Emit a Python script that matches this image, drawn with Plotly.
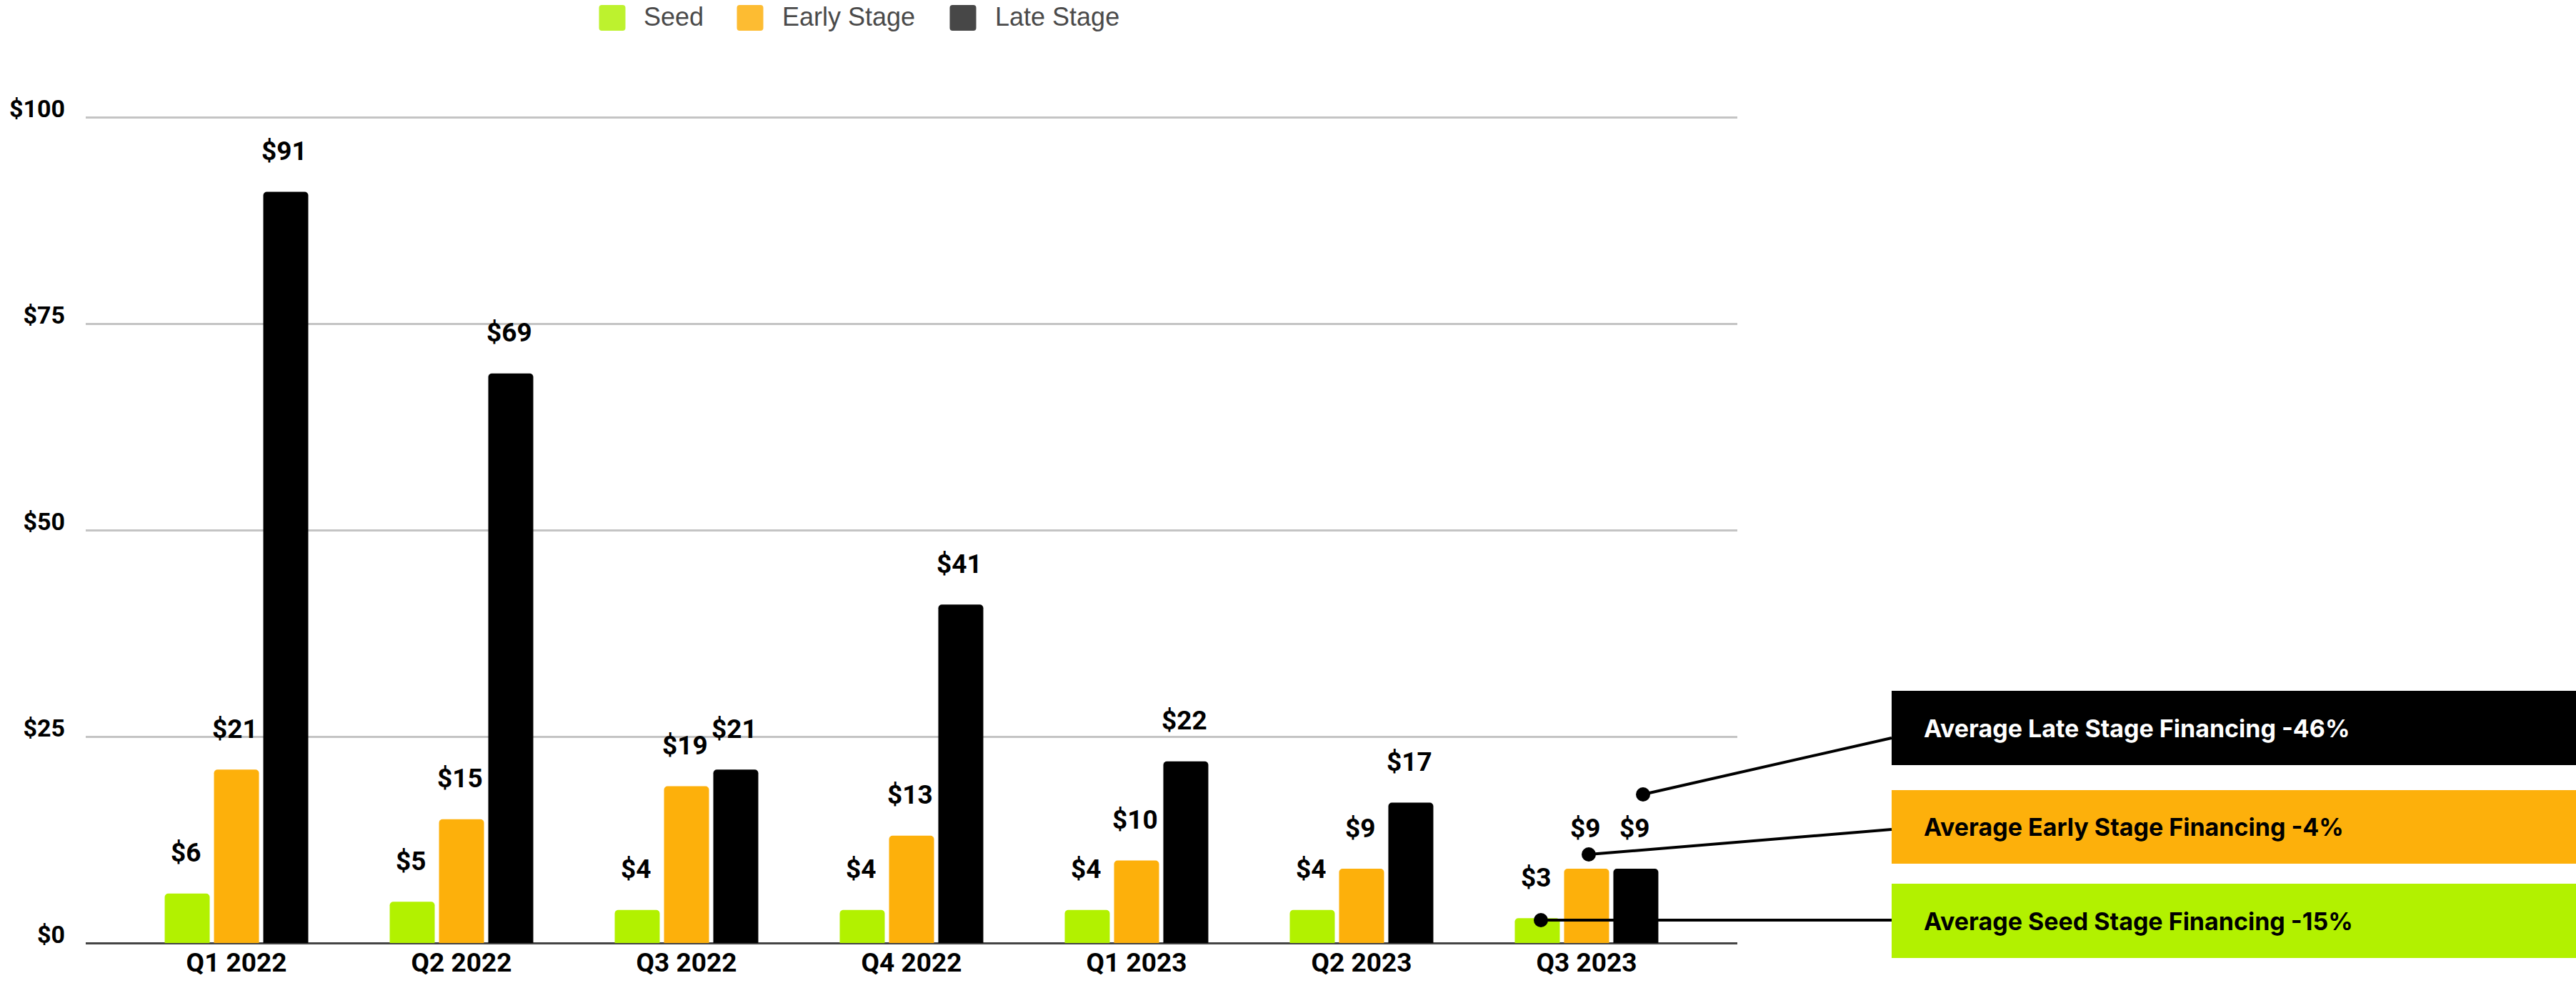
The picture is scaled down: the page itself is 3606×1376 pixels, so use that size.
import plotly.graph_objects as go

# ---- data ----------------------------------------------------------------
quarters = ["Q1 2022", "Q2 2022", "Q3 2022", "Q4 2022", "Q1 2023", "Q2 2023", "Q3 2023"]
series_names = ["Seed", "Early Stage", "Late Stage"]
seed = [6, 5, 4, 4, 4, 4, 3]
early = [21, 15, 19, 13, 10, 9, 9]
late = [91, 69, 21, 41, 22, 17, 9]
series_values = [seed, early, late]

y_tick_vals = [0, 25, 50, 75, 100]
y_tick_text = ["$0", "$25", "$50", "$75", "$100"]

callout_text = [
    "Average Seed Stage Financing -15%",
    "Average Early Stage Financing -4%",
    "Average Late Stage Financing -46%",
]

# ---- styling -------------------------------------------------------------
bar_colors = ["#b2f100", "#fdb00b", "#000000"]
legend_colors = ["#bdf22e", "#fdbc32", "#474747"]
callout_text_colors = ["#000000", "#000000", "#ffffff"]

W, H = 3606, 1376
Y_MAX = 101
ML, MR, MB = 120, 1174, 56
ZERO_PX = H - MB                      # pixel row of the $0 baseline
UNIT_PX = 11.55                       # pixels per $1
MT = round(ZERO_PX - Y_MAX * UNIT_PX)
PW, PH = W - ML - MR, H - MT - MB


def px_x(px):
    return (px - ML) / PW


def px_y(py):
    return (H - MB - py) / PH


def rounded_rect(w, h, r):
    x0, x1, y0, y1 = -w / 2, w / 2, -h / 2, h / 2
    return (f"M{x0 + r},{y0} L{x1 - r},{y0} Q{x1},{y0} {x1},{y0 + r} "
            f"L{x1},{y1 - r} Q{x1},{y1} {x1 - r},{y1} L{x0 + r},{y1} "
            f"Q{x0},{y1} {x0},{y1 - r} L{x0},{y0 + r} Q{x0},{y0} {x0 + r},{y0} Z")


BOLD = dict(family="Roboto, Arial, sans-serif", color="#000000", weight=700)

fig = go.Figure()
for name, vals, col in zip(series_names, series_values, bar_colors):
    fig.add_trace(go.Bar(
        name=name, x=quarters, y=vals,
        marker=dict(color=col, cornerradius=5, line=dict(width=0)),
        showlegend=False, hoverinfo="x+y+name",
    ))

annotations = []
shapes = []

# value labels above each bar
slot_px = 69
for i, vals in enumerate(series_values):
    for q, v in zip(quarters, vals):
        annotations.append(dict(
            x=q, y=v, xref="x", yref="y", text=f"${v}", showarrow=False,
            xshift=(i - 1) * slot_px - 2, yshift=57, yanchor="middle",
            font=dict(size=37, **BOLD),
        ))

# legend row (swatch + label)
legend_swatch_x = [857, 1050, 1348]
legend_text_x = [899, 1093, 1391]
legend_y = 25
for name, col, sx, tx in zip(series_names, legend_colors, legend_swatch_x, legend_text_x):
    shapes.append(dict(
        type="path", xref="paper", yref="paper", xsizemode="pixel", ysizemode="pixel",
        xanchor=px_x(sx), yanchor=px_y(legend_y), path=rounded_rect(37, 36, 4),
        fillcolor=col, line=dict(width=0),
    ))
    annotations.append(dict(
        x=px_x(tx), y=px_y(legend_y - 2), xref="paper", yref="paper", text=name,
        showarrow=False, xanchor="left", yanchor="middle",
        font=dict(family="Liberation Sans, Arial, sans-serif", size=36, color="#4a4a4a"),
    ))

# callout boxes on the right with connector lines
box_left, box_right, box_text_x = 2648, W, 2691
box_tops = [1237, 1106, 967]
box_bottoms = [1341, 1209, 1071]
dot_pts = [(2157, 1288), (2224, 1196), (2300, 1112)]
line_ends = [(box_left, 1288), (box_left, 1161), (box_left, 1033)]

for k in range(3):
    shapes.append(dict(
        type="rect", xref="paper", yref="paper",
        x0=px_x(box_left), x1=px_x(box_right),
        y0=px_y(box_bottoms[k]), y1=px_y(box_tops[k]),
        fillcolor=bar_colors[k], line=dict(width=0), layer="above",
    ))
    annotations.append(dict(
        x=px_x(box_text_x), y=px_y((box_tops[k] + box_bottoms[k]) / 2),
        xref="paper", yref="paper", text=callout_text[k], showarrow=False,
        xanchor="left", yanchor="middle",
        font=dict(family="Inter, Roboto, sans-serif", size=34,
                  color=callout_text_colors[k], weight=700),
    ))
    (dx, dy), (ex, ey) = dot_pts[k], line_ends[k]
    shapes.append(dict(
        type="line", xref="paper", yref="paper",
        x0=px_x(dx), y0=px_y(dy), x1=px_x(ex), y1=px_y(ey),
        line=dict(color="#000000", width=4), layer="above",
    ))
    shapes.append(dict(
        type="circle", xref="paper", yref="paper", xsizemode="pixel", ysizemode="pixel",
        xanchor=px_x(dx), yanchor=px_y(dy), x0=-10, x1=10, y0=-10, y1=10,
        fillcolor="#000000", line=dict(width=0), layer="above",
    ))

fig.update_layout(
    width=W, height=H,
    margin=dict(l=ML, r=MR, t=MT, b=MB, pad=0, autoexpand=False),
    paper_bgcolor="#ffffff", plot_bgcolor="#ffffff",
    barmode="group", bargap=0.343, bargroupgap=0.087,
    showlegend=False,
    annotations=annotations, shapes=shapes,
    xaxis=dict(
        type="category", range=[-0.67, 6.67], showgrid=False, showline=False,
        automargin=False, ticks="", tickfont=dict(size=37, **BOLD),
        ticklabelstandoff=2,
    ),
    yaxis=dict(
        range=[0, Y_MAX], tickvals=y_tick_vals, ticktext=y_tick_text,
        showgrid=True, gridcolor="#c4c4c4", gridwidth=3,
        zeroline=True, zerolinecolor="#444444", zerolinewidth=3,
        showline=False, automargin=False, ticks="", tickfont=dict(size=34, **BOLD),
        ticklabelstandoff=28, ticklabelshift=-12,
    ),
)

fig.write_html("out.html")
